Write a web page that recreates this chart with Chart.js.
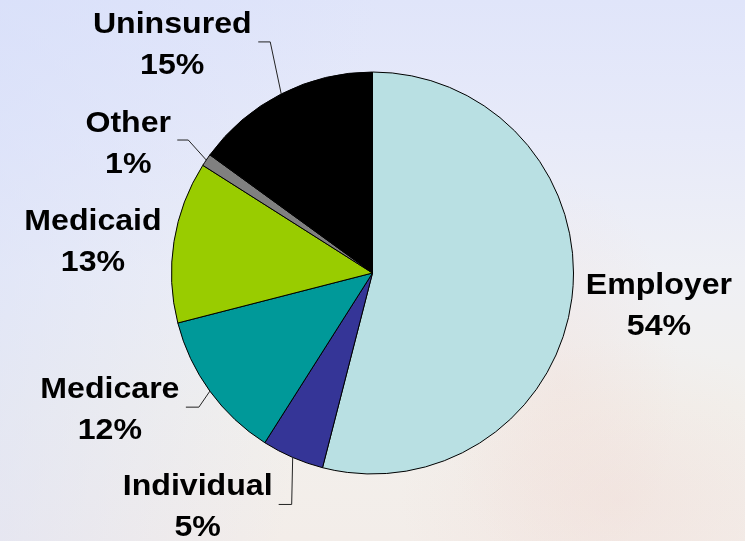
<!DOCTYPE html>
<html>
<head>
<meta charset="utf-8">
<script src="https://cdn.jsdelivr.net/npm/chart.js@4.4.1/dist/chart.umd.min.js"></script>
<style>
  html, body { margin: 0; padding: 0; }
  body {
    width: 745px; height: 541px; overflow: hidden;
    background:
      radial-gradient(ellipse 220px 160px at 620px 500px, rgba(240,214,208,.35), rgba(240,214,208,0)),
      radial-gradient(ellipse 120px 200px at 560px 380px, rgba(242,220,214,.35), rgba(242,220,214,0)),
      linear-gradient(100deg, rgba(214,222,250,.6) 0%, rgba(214,222,250,0) 45%),
      linear-gradient(to bottom, #e0e5fa 0%, #e7eaf9 25%, #eff0f5 50%, #f2f0ec 75%, #f3ede9 100%);
  }
  .stage { position: relative; width: 745px; height: 541px; }
</style>
</head>
<body>
<div class="stage"><canvas id="chart" width="745" height="541"></canvas></div>
<script>
const categories = ['Employer', 'Individual', 'Medicare', 'Medicaid', 'Other', 'Uninsured'];
const shares = [54, 5, 12, 13, 1, 15];
const colors = ['#b9e0e3', '#353597', '#009999', '#99cc00', '#808080', '#000000'];

// label placement, relative to the point on the rim at each slice's middle angle
const labelLayout = {
  Employer:   { text: [87, -4] },
  Individual: { text: [-95, 38], elbow: [-1, 47], end: [-14, 47] },
  Medicare:   { text: [-100, 7], elbow: [-11, 16], end: [-24, 16] },
  Medicaid:   { text: [-81, -12] },
  Other:      { text: [-78, -28], elbow: [-18, -20], end: [-29, -20] },
  Uninsured:  { text: [-109, -61], elbow: [-11, -52], end: [-23, -52] },
};

const pieLabels = {
  id: 'pieLabels',
  afterDatasetsDraw(chart) {
    const { ctx } = chart;
    const meta = chart.getDatasetMeta(0);
    ctx.save();
    meta.data.forEach((arc, i) => {
      const { x, y, startAngle, endAngle, outerRadius } = arc.getProps(['x', 'y', 'startAngle', 'endAngle', 'outerRadius'], true);
      const mid = (startAngle + endAngle) / 2;
      const px = x + Math.cos(mid) * outerRadius;
      const py = y + Math.sin(mid) * outerRadius;
      const lay = labelLayout[categories[i]];
      if (lay.elbow) {
        ctx.beginPath();
        ctx.strokeStyle = '#222';
        ctx.lineWidth = 1;
        ctx.moveTo(px, py);
        ctx.lineTo(px + lay.elbow[0], py + lay.elbow[1]);
        ctx.lineTo(px + lay.end[0], py + lay.end[1]);
        ctx.stroke();
      }
      const tx = px + lay.text[0];
      const ty = py + lay.text[1];
      ctx.fillStyle = '#000';
      ctx.font = 'bold 30px "Liberation Sans", Arial, sans-serif';
      ctx.textAlign = 'center';
      ctx.textBaseline = 'alphabetic';
      [categories[i], shares[i] + '%'].forEach((line, k) => {
        ctx.save();
        ctx.translate(tx, ty + k * 41);
        ctx.scale(1.07, 1);
        ctx.fillText(line, 0, 0);
        ctx.restore();
      });
    });
    ctx.restore();
  }
};

new Chart(document.getElementById('chart'), {
  type: 'pie',
  data: {
    labels: categories,
    datasets: [{ data: shares, backgroundColor: colors, borderColor: '#000', borderWidth: 1, radius: 201 }],
  },
  options: {
    responsive: false,
    animation: false,
    layout: { padding: { top: 5, bottom: 0 } },
    plugins: { legend: { display: false }, tooltip: { enabled: false } },
  },
  plugins: [pieLabels],
});
</script>
</body>
</html>
